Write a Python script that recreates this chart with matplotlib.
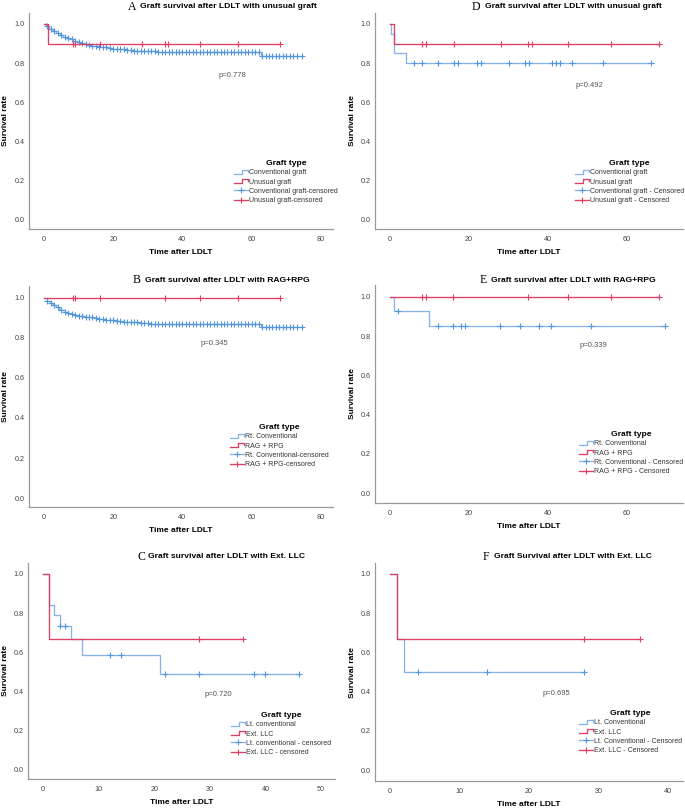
import numpy as np
import matplotlib
matplotlib.use('Agg')
import matplotlib.pyplot as plt
from matplotlib.lines import Line2D
from matplotlib.legend_handler import HandlerBase

plt.rcParams['font.family'] = ['Liberation Sans', 'DejaVu Sans']

W, H = 685, 809
RED = '#dc3f63'
BLUE_LINE = '#86b4ea'
BLUE_MARK = '#5296e0'

# ---- data: event times, survival after each event, censor times ----
# A: unusual graft (all recipients)
a_conv_t = [0.5, 1.5, 2.5, 3.5, 4.5, 5.5, 6.5, 7.5, 8.5, 9.5, 10.5, 11.5, 12.5, 14, 15.5,
            17, 18.5, 20, 22, 24, 26, 28, 30.5, 33, 35, 62.6]
a_conv_s = [0.99, 0.975, 0.963, 0.953, 0.944, 0.936, 0.928, 0.921, 0.915, 0.909, 0.904,
            0.899, 0.894, 0.889, 0.885, 0.881, 0.877, 0.873, 0.870, 0.867, 0.864, 0.862,
            0.860, 0.857, 0.855, 0.838]
a_conv_cens = [1, 2, 3, 4, 5, 6, 7, 8, 9, 10, 11, 12, 13, 14, 15, 16, 17, 18, 19, 20, 21,
               22, 23, 24, 25, 26, 27, 28, 29, 30, 31, 32, 33, 34, 35, 36, 37, 38, 39, 40,
               41, 42, 43, 44, 45, 46, 47, 48, 49, 50, 51, 52, 53, 54, 55, 56, 57, 58, 59,
               60, 61, 62, 63, 64, 65, 66, 67, 68, 69, 70, 71, 72, 73, 74.4]
a_unus_t = [1.25]
a_unus_s = [0.90]
a_unus_cens = [8.3, 9, 16.2, 28.2, 35, 35.8, 45, 56, 68.2]

# B: RAG + RPG (all recipients)
b_conv_t = [1, 1.8, 2.6, 3.4, 4.2, 5, 6, 7, 8, 9, 10, 11.5, 13, 14.5, 16, 17.5, 19, 21,
            23, 25.5, 28, 31, 33.5, 62.6]
b_conv_s = [0.985, 0.974, 0.963, 0.954, 0.946, 0.939, 0.932, 0.926, 0.921, 0.916, 0.912,
            0.907, 0.903, 0.899, 0.896, 0.892, 0.888, 0.884, 0.881, 0.878, 0.875, 0.872,
            0.870, 0.853]
b_conv_cens = a_conv_cens
b_rag_t = []
b_rag_s = []
b_rag_cens = [8.3, 9, 16.2, 35.1, 45, 56.1, 68.2]

# C: Ext. LLC (all recipients)
c_lt_t = [1, 2, 3, 5, 7, 21]
c_lt_s = [0.842, 0.789, 0.737, 0.667, 0.589, 0.491]
c_lt_cens = [3.1, 4, 12, 14, 22, 28, 38, 40, 46]
c_ext_t = [1]
c_ext_s = [0.667]
c_ext_cens = [28, 36]

# D: unusual graft (matched)
d_conv_t = [0.2, 1.0, 4.0]
d_conv_s = [0.95, 0.85, 0.80]
d_conv_cens = [6.2, 8.2, 12.2, 16.1, 17.1, 22.1, 23.1, 30.1, 34.1, 35.1, 41, 42.1, 43, 46,
               54, 66]
d_unus_t = [1.0]
d_unus_s = [0.90]
d_unus_cens = [8.1, 9.1, 16.1, 28.1, 35, 36, 45, 56, 68]

# E: RAG + RPG (matched)
e_conv_t = [1.0, 10.0]
e_conv_s = [0.93, 0.85]
e_conv_cens = [2.1, 12.1, 16, 18, 19, 27.8, 32.8, 37.8, 40.8, 50.8, 69.6]
e_rag_t = []
e_rag_s = []
e_rag_cens = [8, 9, 16, 35, 45, 56, 68]

# F: Ext. LLC (matched)
f_lt_t = [1, 2]
f_lt_s = [0.667, 0.50]
f_lt_cens = [4, 14, 28]
f_ext_t = [1]
f_ext_s = [0.667]
f_ext_cens = [28, 36]

p_values = ['p=0.778', 'p=0.345', 'p=0.720', 'p=0.492', 'p=0.339', 'p=0.695']
y_ticks = [0.0, 0.2, 0.4, 0.6, 0.8, 1.0]


class StepHandler(HandlerBase):
    def create_artists(self, legend, orig_handle, xdescent, ydescent, width, height,
                       fontsize, trans):
        x = np.array([0, 0.6, 0.6, 1.0, 1.0]) * width - xdescent
        y = np.array([0.1, 0.1, 0.9, 0.9, 0.5]) * height - ydescent
        ln = Line2D(x, y, color=orig_handle.get_color(), lw=orig_handle.get_linewidth())
        ln.set_transform(trans)
        return [ln]


def surv_at(times, surv, t):
    idx = np.searchsorted(np.asarray(times, float), t, side='right')
    return 1.0 if idx == 0 else surv[idx - 1]


def draw_curve(ax, times, surv, cens, line_c, mark_c, z):
    end = max(list(times) + list(cens))
    xs = [0.0] + list(times) + [end]
    ys = [1.0] + list(surv) + [surv[-1] if surv else 1.0]
    ax.step(xs, ys, where='post', color=line_c, lw=0.95, zorder=z)
    cy = [surv_at(times, surv, t) for t in cens]
    ax.plot(cens, cy, ls='none', marker='+', ms=4.3, mew=0.8, color=mark_c, zorder=z + 0.5)


panels = [
    dict(letter='A', title='Graft survival after LDLT with unusual graft',
         box=(29, 13, 333, 229), xlim=(-4.33, 83.5), xticks=[0, 20, 40, 60, 80],
         ylim=(-0.046, 1.056), p=(54.3, 0.735), tpos=(128, 140, 7), leg=(234, 160),
         labels=['Conventional graft', 'Unusual graft', 'Conventional graft-censored',
                 'Unusual graft-censored'],
         curves=[(a_conv_t, a_conv_s, a_conv_cens), (a_unus_t, a_unus_s, a_unus_cens)],
         pv=p_values[0]),
    dict(letter='D', title='Graft survival after LDLT with unusual graft',
         box=(375, 13, 683, 229), xlim=(-3.8, 74.2), xticks=[0, 20, 40, 60],
         ylim=(-0.046, 1.056), p=(50.5, 0.684), tpos=(472, 485, 7), leg=(575, 160),
         labels=['Conventional graft', 'Unusual graft', 'Conventional graft - Censored',
                 'Unusual graft - Censored'],
         curves=[(d_conv_t, d_conv_s, d_conv_cens), (d_unus_t, d_unus_s, d_unus_cens)],
         pv=p_values[3]),
    dict(letter='B', title='Graft survival after LDLT with RAG+RPG',
         box=(29, 286, 333, 507), xlim=(-4.33, 83.5), xticks=[0, 20, 40, 60, 80],
         ylim=(-0.045, 1.06), p=(49.2, 0.773), tpos=(133, 145, 280), leg=(230, 424),
         labels=['Rt. Conventional', 'RAG + RPG', 'Rt. Conventional-censored',
                 'RAG + RPG-censored'],
         curves=[(b_conv_t, b_conv_s, b_conv_cens), (b_rag_t, b_rag_s, b_rag_cens)],
         pv=p_values[1]),
    dict(letter='E', title='Graft survival after LDLT with RAG+RPG',
         box=(375, 285, 683, 503), xlim=(-3.8, 74.2), xticks=[0, 20, 40, 60],
         ylim=(-0.051, 1.061), p=(51.5, 0.751), tpos=(480, 491, 280), leg=(579, 431),
         labels=['Rt. Conventional', 'RAG + RPG', 'Rt. Conventional - Censored',
                 'RAG + RPG - Censored'],
         curves=[(e_conv_t, e_conv_s, e_conv_cens), (e_rag_t, e_rag_s, e_rag_cens)],
         pv=p_values[4]),
    dict(letter='C', title='Graft survival after LDLT with Ext. LLC',
         box=(28, 563, 335, 779), xlim=(-2.7, 52.5), xticks=[0, 10, 20, 30, 40, 50],
         ylim=(-0.046, 1.056), p=(31.6, 0.383), tpos=(137, 148, 557), leg=(231, 712),
         labels=['Lt. conventional', 'Ext. LLC', 'Lt. conventional - censored',
                 'Ext. LLC - censored'],
         curves=[(c_lt_t, c_lt_s, c_lt_cens), (c_ext_t, c_ext_s, c_ext_cens)],
         pv=p_values[2]),
    dict(letter='F', title='Graft Survival after LDLT with Ext. LLC',
         box=(375, 563, 683, 781), xlim=(-2.16, 42.2), xticks=[0, 10, 20, 30, 40],
         ylim=(-0.056, 1.056), p=(23.9, 0.392), tpos=(483, 494, 557), leg=(579, 710),
         labels=['Lt. Conventional', 'Ext. LLC', 'Lt. Conventional - Censored',
                 'Ext. LLC - Censored'],
         curves=[(f_lt_t, f_lt_s, f_lt_cens), (f_ext_t, f_ext_s, f_ext_cens)],
         pv=p_values[5]),
]

fig = plt.figure(figsize=(W / 100, H / 100), dpi=100)

for pan in panels:
    l, t, r, b = pan['box']
    ax = fig.add_axes([l / W, 1 - b / H, (r - l) / W, (b - t) / H])
    (t1, s1, c1), (t2, s2, c2) = pan['curves']
    draw_curve(ax, t1, s1, c1, BLUE_LINE, BLUE_MARK, 2)
    draw_curve(ax, t2, s2, c2, RED, RED, 3)

    ax.set_xlim(*pan['xlim'])
    ax.set_ylim(*pan['ylim'])
    ax.set_xticks(pan['xticks'])
    ax.set_yticks(y_ticks)
    ax.set_yticklabels([f'{v:.1f}' for v in y_ticks])
    ax.tick_params(length=0, labelsize=5.2, labelcolor='#444444')
    ax.tick_params(axis='x', pad=5)
    ax.tick_params(axis='y', pad=3)
    for s in ['top', 'right']:
        ax.spines[s].set_visible(False)
    for s in ['left', 'bottom']:
        ax.spines[s].set_color('#9a9a9a')
        ax.spines[s].set_linewidth(0.9)

    hpx = b - t
    wpx = r - l
    ax.set_ylabel('Survival rate', fontsize=6, fontweight='bold', va='center')
    ax.yaxis.set_label_coords(-23 / wpx, 0.5)
    ax.set_xlabel('Time after LDLT', fontsize=6, fontweight='bold', va='center')
    ax.xaxis.set_label_coords(0.5, -23 / hpx)

    ax.text(pan['p'][0], pan['p'][1], pan['pv'], fontsize=5.5, color='#555555',
            ha='center', va='center')

    # title: serif letter + bold sans text
    lx, tx, ty = pan['tpos']
    fig.text(lx / W, 1 - ty / H, pan['letter'], family='Liberation Serif', fontsize=8.5,
             ha='left', va='center')
    fig.text(tx / W, 1 - ty / H, pan['title'], fontsize=6.1, fontweight='bold',
             ha='left', va='center')

    h_conv = Line2D([], [], color=BLUE_LINE, lw=0.95)
    h_red = Line2D([], [], color=RED, lw=0.95)
    h_conv_c = Line2D([], [], color=BLUE_LINE, lw=0.95, marker='+', ms=5, mew=0.8,
                      mec=BLUE_MARK)
    h_red_c = Line2D([], [], color=RED, lw=0.95, marker='+', ms=5, mew=0.8)
    lgx, lgy = pan['leg']
    leg = ax.legend([h_conv, h_red, h_conv_c, h_red_c], pan['labels'],
                    handler_map={h_conv: StepHandler(), h_red: StepHandler()},
                    loc='upper left', bbox_to_anchor=(lgx / W, 1 - lgy / H),
                    bbox_transform=fig.transFigure, frameon=False, fontsize=5,
                    title='Graft type', title_fontproperties={'weight': 'bold', 'size': 6.1},
                    handlelength=2.0, handletextpad=0.15, labelspacing=0.33,
                    borderpad=0, borderaxespad=0, numpoints=1)
    for txt in leg.get_texts():
        txt.set_color('#333333')

fig.savefig('out.png', dpi=100)
